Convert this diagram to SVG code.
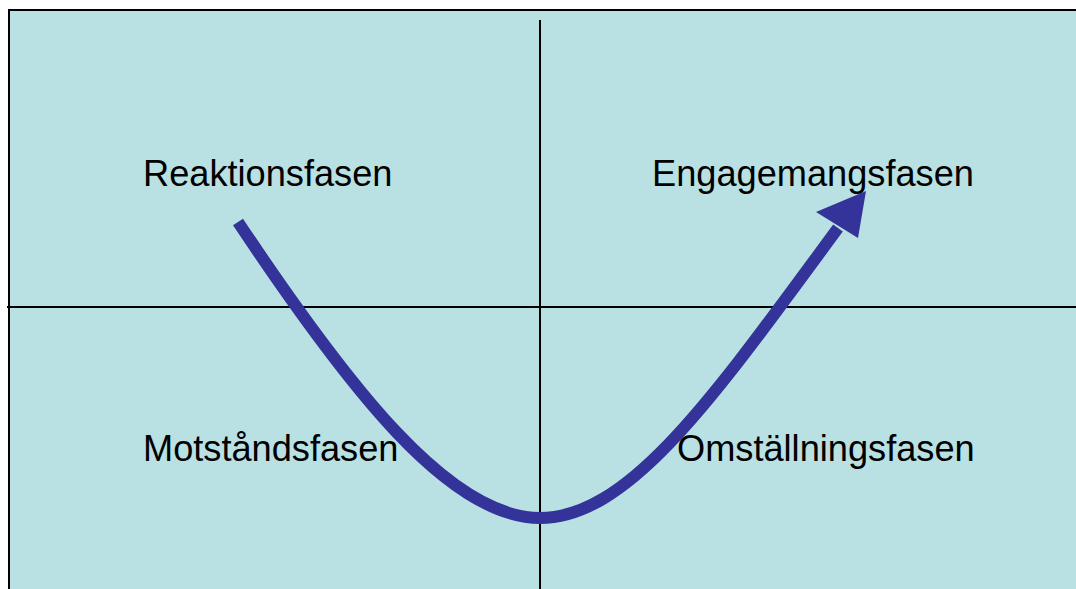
<svg xmlns="http://www.w3.org/2000/svg" width="1076" height="589" viewBox="0 0 1076 589">
<style>
.lbl{font-family:"Liberation Sans",Arial,sans-serif;font-size:36.2px;fill:#000}
.ax{stroke:#000;stroke-width:2;fill:none}
</style>
<rect width="1076" height="589" fill="#fff"/>
<g id="background"><rect x="9" y="10" width="1080" height="590" fill="#b9e0e3" stroke="#000" stroke-width="2"/></g>
<g id="connectors">
<line class="ax" x1="540" y1="20" x2="540" y2="589"/>
<line class="ax" x1="7" y1="307" x2="1076" y2="307"/>
<path d="M238,222 C350,390 450,518 540,518 C630,518 715,395 838,228" fill="none" stroke="#333399" stroke-width="12"/>
<polygon points="866,191 816,212 858,238" fill="#333399"/>
</g>
<g id="n1"><text class="lbl" x="143" y="186">Reaktionsfasen</text></g>
<g id="n2"><text class="lbl" x="652" y="186">Engagemangsfasen</text></g>
<g id="n3"><text class="lbl" x="143" y="461">Motståndsfasen</text></g>
<g id="n4"><text class="lbl" x="677" y="461">Omställningsfasen</text></g>
</svg>
